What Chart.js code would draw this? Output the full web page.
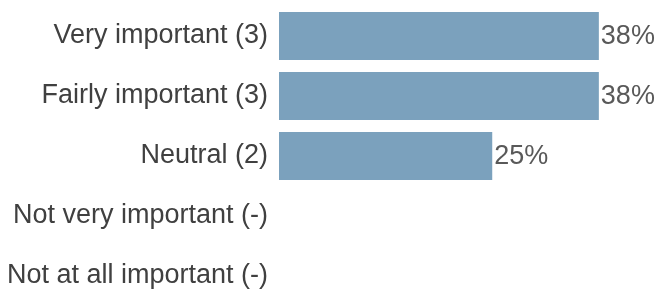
<!DOCTYPE html>
<html>
<head>
<meta charset="utf-8">
<script src="https://cdn.jsdelivr.net/npm/chart.js@4.4.1/dist/chart.umd.min.js"></script>
<style>
  html, body { margin: 0; padding: 0; background: #fff; overflow: hidden; }
  #wrap { position: relative; width: 656px; height: 312px; }
</style>
</head>
<body>
<div id="wrap"><canvas id="chart"></canvas></div>
<script>
const categories = [
  'Very important (3)',
  'Fairly important (3)',
  'Neutral (2)',
  'Not very important (-)',
  'Not at all important (-)',
];
const shares = [37.5, 37.5, 25, 0, 0];

const font = { family: "'Liberation Sans', Arial, sans-serif", size: 27 };

// percent text at the end of each bar
const barLabels = {
  id: 'barLabels',
  afterDatasetsDraw(chart) {
    const g = chart.ctx;
    const meta = chart.getDatasetMeta(0);
    g.save();
    g.font = `${font.size}px ${font.family}`;
    g.fillStyle = '#595959';
    g.textAlign = 'left';
    g.textBaseline = 'middle';
    meta.data.forEach((bar, i) => {
      const v = shares[i];
      if (!v) return;
      g.fillText(Math.round(v) + '%', bar.x + 2, bar.y + 1);
    });
    g.restore();
  },
};

new Chart(document.getElementById('chart'), {
  type: 'bar',
  data: {
    labels: categories,
    datasets: [{
      data: shares,
      backgroundColor: '#7ba1bd',
      borderWidth: 0,
      barPercentage: 0.8,
      categoryPercentage: 1,
    }],
  },
  options: {
    indexAxis: 'y',
    responsive: true,
    maintainAspectRatio: false,
    animation: false,
    layout: { padding: { top: 6, bottom: 6, left: 0, right: 0 } },
    plugins: { legend: { display: false }, tooltip: { enabled: false } },
    scales: {
      x: {
        display: false,
        min: 0,
        max: 44.2,
      },
      y: {
        border: { display: false },
        grid: { display: false, drawTicks: false },
        ticks: { color: '#404040', font, padding: 11 },
        afterFit: (s) => {
          s.width = 279;
          s.paddingTop = 0;
          s.paddingBottom = 0;
        },
      },
    },
  },
  plugins: [barLabels],
});
</script>
</body>
</html>
